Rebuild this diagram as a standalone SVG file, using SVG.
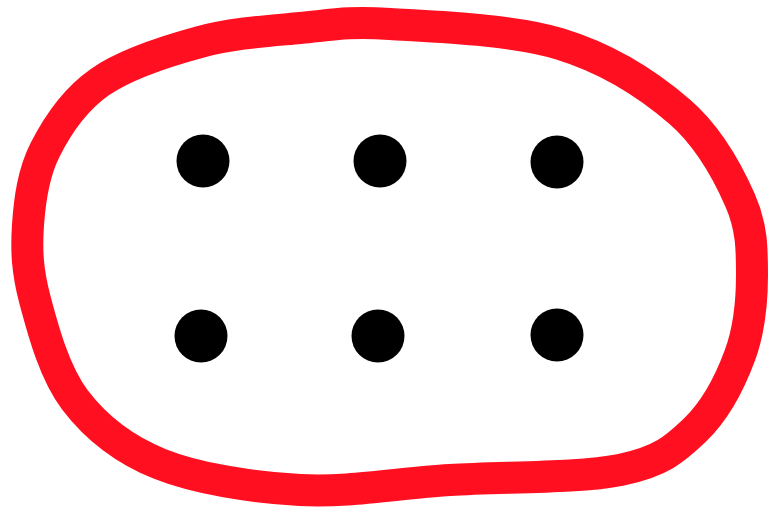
<svg xmlns="http://www.w3.org/2000/svg" width="769" height="512" viewBox="0 0 769 512">
<style>
.loop{fill:none;stroke:#ff0f1f;stroke-width:32;stroke-linejoin:round}
.dot{fill:#000}
</style>
<rect width="769" height="512" fill="#fff"/>
<g id="loop">
<path class="loop" d="M390,24 C433.3,26.7 511.7,29.3 560,44 C608.3,58.7 650,86 680,112 C710,138 728,172.8 740,200 C752,227.2 752,249.2 752,275 C752,300.8 749.5,329.2 740,355 C730.5,380.8 715,410.8 695,430 C675,449.2 660.8,461.7 620,470 C579.2,478.3 503.3,476.7 450,480 C396.7,483.3 348.3,492.7 300,490 C251.7,487.3 197.5,479 160,464 C122.5,449 95.8,427.3 75,400 C54.2,372.7 42.8,329.2 35,300 C27.2,270.8 26.3,250 28,225 C29.7,200 33,173.8 45,150 C57,126.2 74.2,100 100,82 C125.8,64 166.7,51 200,42 C233.3,33 268.3,31 300,28 C331.7,25 346.7,21.3 390,24 Z"/>
</g>
<g id="dot1"><circle class="dot" cx="203" cy="161" r="26.5"/></g>
<g id="dot2"><circle class="dot" cx="380" cy="161" r="26.5"/></g>
<g id="dot3"><circle class="dot" cx="557" cy="162" r="26.5"/></g>
<g id="dot4"><circle class="dot" cx="201" cy="336" r="26.5"/></g>
<g id="dot5"><circle class="dot" cx="378" cy="336" r="26.5"/></g>
<g id="dot6"><circle class="dot" cx="557" cy="335" r="26.5"/></g>
<g id="connectors"/>
</svg>
